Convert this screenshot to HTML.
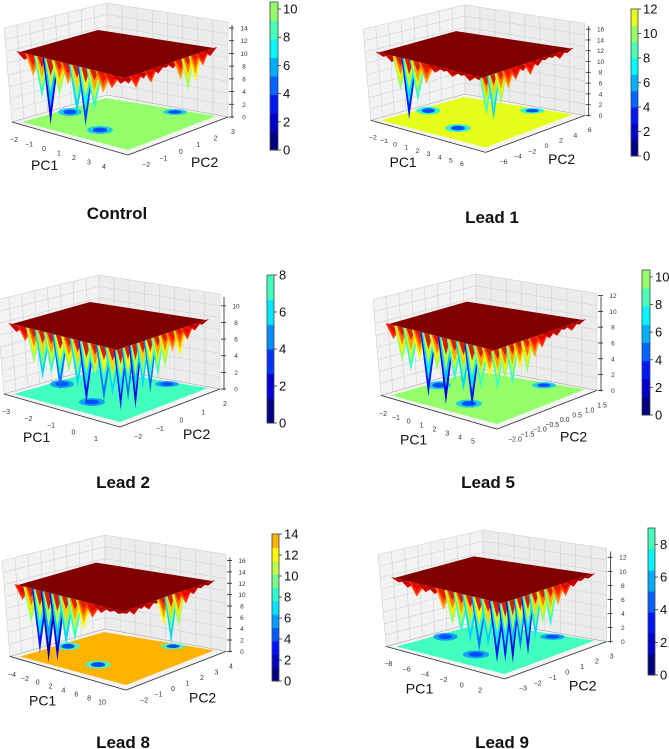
<!DOCTYPE html>
<html><head><meta charset="utf-8"><style>
body{margin:0;background:#fff;}
svg{display:block;font-family:"Liberation Sans",sans-serif;}
</style></head><body>
<svg id="c" width="669" height="749" viewBox="0 0 669 749" xmlns="http://www.w3.org/2000/svg"></svg>
<script>
// ---- data ----
const panelTitles=["Control","Lead 1","Lead 2","Lead 5","Lead 8","Lead 9"];
const cbTicks=[[0,2,4,6,8,10],[0,2,4,6,8,10,12],[0,2,4,6,8],[0,2,4,6,8,10],[0,2,4,6,8,10,12,14],[0,2,4,6,8]];
const cbTop=[10.5,12,8,10.5,14,9];
const cbFrac=[0.52,0.6,0.44,0.52,0.70,0.44];
const zTicks=[[0,2,4,6,8,10,12,14],[0,2,4,6,8,10,12,14,16],[0,2,4,6,8,10],[0,2,4,6,8,10,12],[0,2,4,6,8,10,12,14,16],[0,2,4,6,8,10,12]];
const zTop=[14,16,10.7,11.5,16,12.4];
const pc1Ticks=[["−2","−1","0","1","2","3","4"],["−2","−1","0","1","2","3","4","5","6"],["−3","−2","−1","0","1"],["−2","−1","0","1","2","3","4","5"],["−4","−2","0","2","4","6","8","10"],["−8","−6","−4","−2","0","2"]];
const pc2Ticks=[["−2","−1","0","1","2","3"],["−6","−4","−2","0","2","4","6"],["−2","−1","0","1","2"],["−2.0","−1.5","−1.0","−0.5","0.0","0.5","1.0","1.5"],["−2","−1","0","1","2","3","4"],["−3","−2","−1","0","1","2","3"]];
// spike depths (fraction of plateau height) along left-front and right-front plateau edges
const spikesLeft=[
 [0.1,0.3,0.6,0.95,0.5,0.3,0.7,0.85,0.6,0.3,0.2,0.1],
 [0.05,0.1,0.5,0.9,0.6,0.3,0.1,0.05,0.1,0.05,0.1,0.05],
 [0.1,0.2,0.5,0.7,0.6,0.8,0.5,0.7,0.9,0.6,0.8,0.7],
 [0.2,0.5,0.6,0.4,0.9,0.5,0.95,0.6,0.7,0.9,0.6,0.4],
 [0.2,0.5,0.9,1.0,0.95,0.7,0.6,0.4,0.2,0.1,0.05,0.05],
 [0.05,0.1,0.2,0.1,0.1,0.3,0.5,0.6,0.7,0.8,0.7,0.9]];
const spikesRight=[
 [0.1,0.2,0.1,0.2,0.1,0.05,0.1,0.3,0.5,0.4,0.2,0.1],
 [0.6,0.7,0.5,0.3,0.2,0.1,0.2,0.1,0.05,0.05,0.1,0.05],
 [0.9,0.8,0.95,0.7,0.8,0.6,0.5,0.3,0.4,0.2,0.1,0.05],
 [0.6,0.5,0.6,0.4,0.5,0.3,0.2,0.1,0.1,0.05,0.1,0.05],
 [0.05,0.1,0.05,0.1,0.05,0.4,0.7,0.5,0.2,0.1,0.05,0.05],
 [0.9,0.95,0.8,0.9,0.7,0.5,0.6,0.3,0.2,0.1,0.05,0.05]];
// ---- layout ----
const origins=[[0,0],[359,2],[-8,272],[369,271],[-2,532],[374,527]];
const scales=[[1,1],[0.99,0.97],[1,1],[1,1.02],[1,1.02],[1.02,0.98]];
const cbBox=[[270,2,8,148],[631,9,7,147],[267,275,7,148],[642,270,8,145],[272,534,7,147],[648,528,7,147]];
const titlePos=[[117,219],[492,223],[123,488],[488,488],[123,748],[502,748]];

const svg=document.getElementById('c');
const NS="http://www.w3.org/2000/svg";
function mk(tag,attrs,parent){const e=document.createElementNS(NS,tag);for(const k in attrs)e.setAttribute(k,attrs[k]);(parent||svg).appendChild(e);return e;}
function jet(t){t=Math.max(0,Math.min(1,t));
 const r=Math.max(0,Math.min(1,1.5-Math.abs(4*t-3))),g=Math.max(0,Math.min(1,1.5-Math.abs(4*t-2))),b=Math.max(0,Math.min(1,1.5-Math.abs(4*t-1)));
 return `rgb(${Math.round(r*255)},${Math.round(g*255)},${Math.round(b*255)})`;}
function pts(a){return a.map(p=>p.map(v=>v.toFixed(1)).join(',')).join(' ');}
function lerp(a,b,t){return [a[0]+(b[0]-a[0])*t,a[1]+(b[1]-a[1])*t];}

panelTitles.forEach((title,i)=>{
 const [ox,oy]=origins[i],[sx,sy]=scales[i];
 const g=mk('g',{transform:`translate(${ox},${oy}) scale(${sx},${sy})`});
 
 
 const BT=[107,3],BB=[107,95],LT=[4,28],LB=[12,122],RT=[228,22],RB=[228,117],F=[128,155];
 mk('polygon',{points:pts([LB,BB,BT,LT]),fill:'#f2f2f2',stroke:'#d0d0d0','stroke-width':0.6,},g);
 mk('polygon',{points:pts([BB,RB,RT,BT]),fill:'#ececec',stroke:'#d0d0d0','stroke-width':0.6,},g);
 for(let k=1;k<8;k++){const t=k/8;
  [[lerp(LB,BB,t),lerp(LT,BT,t)],[lerp(BB,RB,t),lerp(BT,RT,t)],[lerp(LB,LT,t),lerp(BB,BT,t)],[lerp(BB,BT,t),lerp(RB,RT,t)]].forEach(([a,b])=>
   mk('line',{x1:a[0],y1:a[1],x2:b[0],y2:b[1],stroke:'#d2d2d2','stroke-width':0.6},g));
 }
 mk('polygon',{points:pts([LB,F,RB,BB]),fill:'#f4f4f4',stroke:'#aaa','stroke-width':0.6,},g);
 mk('line',{x1:LB[0],y1:LB[1],x2:F[0],y2:F[1],stroke:'#333','stroke-width':0.8},g);
 mk('line',{x1:F[0],y1:F[1],x2:RB[0],y2:RB[1],stroke:'#333','stroke-width':0.8},g);
 const fl=[[22,122],[128,150],[216,116],[106,98]];
 mk('polygon',{points:pts(fl),fill:jet(cbFrac[i]),},g);
 [[70,112,12,4],[100,130,13,4],[175,112,12,3]].forEach(([x,y,rx,ry])=>{
  mk('ellipse',{cx:x,cy:y,rx:rx,ry:ry,fill:jet(cbFrac[i]*0.6),opacity:0.8},g);
  mk('ellipse',{cx:x,cy:y,rx:rx*0.55,ry:ry*0.6,fill:jet(0.2)},g);
 });
 // plateau
 const PL=[20,52],PB=[98,30],PR=[214,48],PF=[125,78];
 mk('polygon',{points:pts([PL,PB,PR,PF]),fill:'#800000',},g);
 const drop=68;
 function spikes(A,B,arr,nm){
  const n=arr.length;
  arr.forEach((v,k)=>{
   const a=lerp(A,B,(k-0.4)/n),b=lerp(A,B,(k+1.4)/n),m=lerp(A,B,(k+0.5)/n);
   const layers=[1,0.75,0.5,0.25];
   layers.forEach((f,li)=>{
    const c=jet(1-v*f*0.95);
    const p=mk('polygon',{points:pts([lerp(a,b,0.5-0.5*(0.4+0.6*f)),lerp(a,b,0.5+0.5*(0.4+0.6*f)),[m[0],m[1]+v*drop*f]]),fill:li==3?'#d42000':c},g);
    if(li===0){}
   });
  });
 }
 spikes(PL,PF,spikesLeft[i],'left');
 spikes(PF,PR,spikesRight[i],'right');
 // z axis
 mk('line',{x1:232,y1:25,x2:232,y2:118,stroke:'#222','stroke-width':0.8},g);
 zTicks[i].forEach(z=>{const y=117-(z/zTop[i])*89;
  mk('line',{x1:229,y1:y,x2:234,y2:y,stroke:'#222','stroke-width':0.8},g);
  const t=mk('text',{x:244,y:y+2.5,'font-size':6.5,fill:'#333','text-anchor':'middle'},g);t.textContent=z;
  });
 const p1=pc1Ticks[i];
 p1.forEach((s,k)=>{const p=lerp([14,142],[104,169],k/(p1.length-1));
  const t=mk('text',{x:p[0],y:p[1],'font-size':7,fill:'#333','text-anchor':'middle'},g);t.textContent=s;
  });
 const p2=pc2Ticks[i];
 p2.forEach((s,k)=>{const p=lerp([146,167],[233,134],k/(p2.length-1));
  const t=mk('text',{x:p[0],y:p[1],'font-size':7,fill:'#333','text-anchor':'middle'},g);t.textContent=s;
  });
 const a1=mk('text',{x:31,y:170,'font-size':14,fill:'#111'},g);a1.textContent='PC1';
 
 const a2=mk('text',{x:191,y:167,'font-size':14,fill:'#111'},g);a2.textContent='PC2';
 
 // colorbar
 const [cx,cy,cw,ch]=cbBox[i];const top=cbTop[i];const nb=Math.round(top/1.3);
 for(let k=0;k<nb;k++){
  const r=mk('rect',{x:cx,y:cy+ch-(k+1)*ch/nb,width:cw,height:ch/nb+0.5,fill:jet(cbFrac[i]*k/(nb-1))});
  
 }
 mk('rect',{x:cx,y:cy,width:cw,height:ch,fill:'none',stroke:'#444','stroke-width':0.8,});
 cbTicks[i].forEach(v=>{const y=cy+ch-(v/top)*ch;
  mk('line',{x1:cx+cw,y1:y,x2:cx+cw+3,y2:y,stroke:'#333','stroke-width':0.8});
  const t=mk('text',{x:cx+cw+5,y:y+4.5,'font-size':13,fill:'#111'});t.textContent=v;
  });
 const tt=mk('text',{x:titlePos[i][0],y:titlePos[i][1],'font-size':17,'font-weight':'bold','text-anchor':'middle',fill:'#111'});
 tt.textContent=title;
 
});
</script>
</body></html>
